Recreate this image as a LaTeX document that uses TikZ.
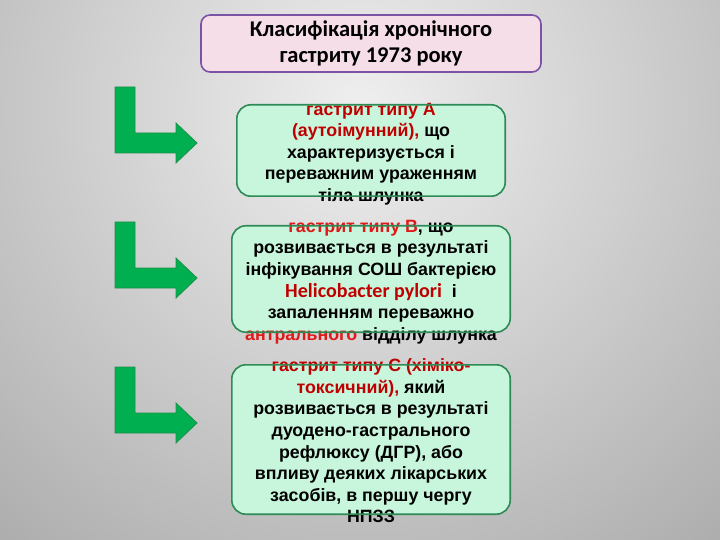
\documentclass[tikz,border=0pt]{standalone}
\usepackage{fontspec}
\setmainfont{Liberation Sans}
\newfontfamily\calfont{Carlito}
\definecolor{bginner}{HTML}{EFEFEF}
\definecolor{bgouter}{HTML}{888888}
\definecolor{boxgreen}{HTML}{C8F6DC}
\definecolor{linegreen}{HTML}{2E8B57}
\definecolor{arrowgreen}{HTML}{00B050}
\definecolor{arrowline}{HTML}{1F8F4A}
\definecolor{titlepink}{HTML}{F6DEE8}
\definecolor{titleline}{HTML}{7B52A6}
\definecolor{darkred}{HTML}{C00000}
\definecolor{brightred}{HTML}{E01818}
\tikzset{
	gbox/.style={fill=boxgreen,rounded corners=14pt,inner sep=0pt},
	gline/.style={draw=linegreen,line width=1.6pt,rounded corners=14pt},
	btext/.style={font=\bfseries\fontsize{17.8}{21.6}\selectfont,align=center,text=black},
	tbox/.style={fill=titlepink,draw=titleline,line width=1.6pt,rounded corners=9pt,
		font=\calfont\bfseries\fontsize{22.5}{25.5}\selectfont,align=center},
	barrow/.style={fill=arrowgreen,draw=arrowline,line width=0.8pt,line join=miter}
}
\begin{document}
\begin{tikzpicture}[x=1pt,y=-1pt]
	\useasboundingbox (0,0) rectangle (720,540);
	\begin{scope}
		\clip (0,0) rectangle (720,540);
		\fill[bgouter] (0,0) rectangle (720,540);
		\shade[inner color=bginner,outer color=bgouter] (360,110) circle (880);
	\end{scope}

	\node[tbox,minimum width=340pt,minimum height=57pt] (title) at (371,43.5) {Класифікація хронічного\\гастриту 1973 року};

	\node[gbox,minimum width=268pt,minimum height=91pt] (boxa) at (371,150.5) {};
	\node[btext] (texta) at (371,154) {\textcolor{darkred}{гастрит типу А}\\\textcolor{darkred}{(аутоімунний),} що\\характеризується і\\переважним ураженням\\тіла шлунка};
	\draw[gline] (boxa.south west) rectangle (boxa.north east);

	\node[gbox,minimum width=278pt,minimum height=106pt] (boxb) at (371,279) {};
	\node[btext] (textb) at (371,282) {\textcolor{brightred}{гастрит типу В}, що\\розвивається в результаті\\інфікування СОШ бактерією\\{\calfont\fontsize{20}{21.6}\selectfont\textcolor{darkred}{Helicobacter pylori}}\ \ і\\запаленням переважно\\\textcolor{brightred}{антрального} відділу шлунка};
	\draw[gline] (boxb.south west) rectangle (boxb.north east);

	\node[gbox,minimum width=278pt,minimum height=149pt] (boxc) at (371,439.5) {};
	\node[btext] (textc) at (371,441) {\textcolor{darkred}{гастрит типу С (хіміко-}\\\textcolor{darkred}{токсичний),} який\\розвивається в результаті\\дуодено-гастрального\\рефлюксу (ДГР), або\\впливу деяких лікарських\\засобів, в першу чергу\\НПЗЗ};
	\draw[gline] (boxc.south west) rectangle (boxc.north east);

	\foreach \dy in {0,135,280}
		\draw[barrow] (115,87+\dy) -- (135,87+\dy) -- (135,133+\dy) -- (176,133+\dy) -- (176,123+\dy) -- (197,143+\dy) -- (176,163+\dy) -- (176,153+\dy) -- (115,153+\dy) -- cycle;
\end{tikzpicture}
\end{document}
